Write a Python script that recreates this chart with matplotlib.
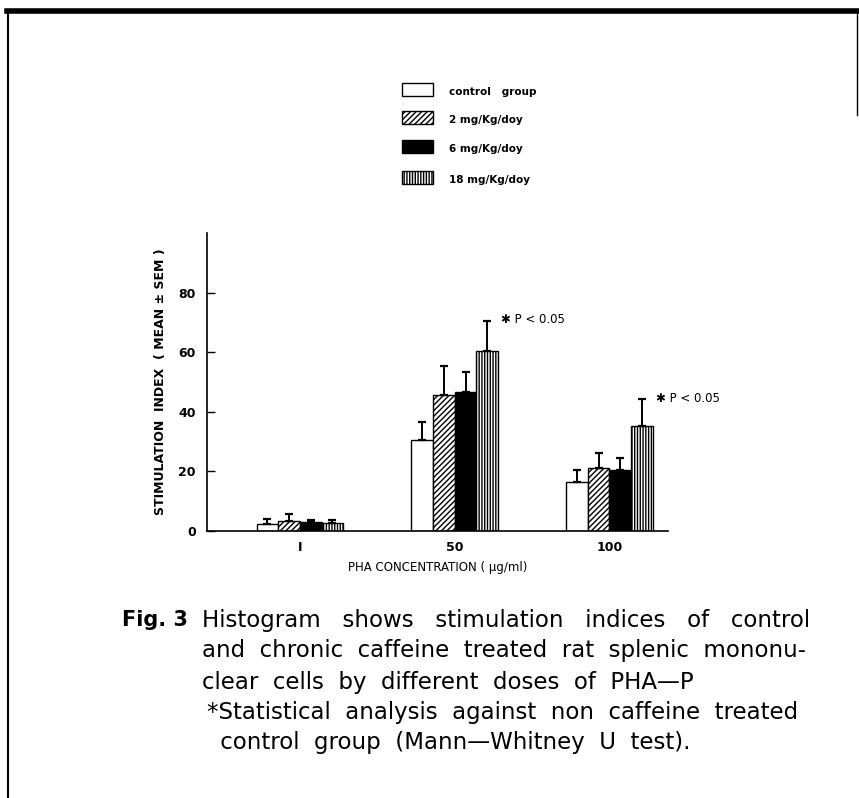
import numpy as np
import matplotlib
matplotlib.use('Agg')
import matplotlib.pyplot as plt
from matplotlib.patches import Rectangle

plt.rcParams['hatch.linewidth'] = 1.0

# data
concs = ['1', '50', '100']
groups = ['control   group', '2 mg/Kg/day', '6 mg/Kg/day', '18 mg/Kg/day']
means = {
    'control   group': [2.3, 30.5, 16.3],
    '2 mg/Kg/day': [3.4, 45.6, 21.2],
    '6 mg/Kg/day': [3.0, 46.7, 20.4],
    '18 mg/Kg/day': [2.8, 60.5, 35.2],
}
sems = {
    'control   group': [1.7, 6.0, 4.1],
    '2 mg/Kg/day': [2.3, 9.8, 5.0],
    '6 mg/Kg/day': [0.7, 6.7, 4.0],
    '18 mg/Kg/day': [0.9, 10.0, 9.2],
}
styles = {
    'control   group': dict(facecolor='white', hatch=None),
    '2 mg/Kg/day': dict(facecolor='white', hatch='//////'),
    '6 mg/Kg/day': dict(facecolor='black', hatch=None),
    '18 mg/Kg/day': dict(facecolor='white', hatch='||||||'),
}
legend_labels = ['control   group', '2 mg/Kg/doy', '6 mg/Kg/doy', '18 mg/Kg/doy']

fig = plt.figure(figsize=(8.59, 7.98), dpi=100)
fig.patch.set_facecolor('white')

ax = fig.add_axes([0.241, 0.3346, 0.537, 0.3734])
x = np.arange(len(concs))
w = 0.14
for i, g in enumerate(groups):
    pos = x + (i - 1.5) * w
    ax.bar(pos, means[g], w, edgecolor='black', linewidth=1.0, **styles[g])
    ax.errorbar(pos, means[g], yerr=[np.zeros(3), sems[g]], fmt='none',
                ecolor='black', elinewidth=1.4, capsize=3, capthick=1.6)

ax.set_xlim(-0.6, 2.38)
ax.set_ylim(0, 100)
ax.set_yticks([0, 20, 40, 60, 80])
ax.set_yticklabels(['0', '20', '40', '60', '80'], fontsize=9, fontweight='bold')
ax.tick_params(axis='y', direction='in', length=6, width=1, pad=8)
ax.set_xticks(x)
ax.set_xticklabels(['I', '50', '100'], fontsize=9, fontweight='bold')
ax.tick_params(axis='x', length=0, pad=7)
for s in ['top', 'right']:
    ax.spines[s].set_visible(False)
ax.spines['left'].set_linewidth(1.2)
ax.spines['bottom'].set_linewidth(1.2)
ax.set_ylabel('STIMULATION  INDEX  ( MEAN \u00b1 SEM )', fontsize=9,
              fontweight='bold', labelpad=8)
ax.set_xlabel('PHA CONCENTRATION ( \u03bcg/ml)', fontsize=8.5, labelpad=5)

# significance marks
ax.text(x[1] + 1.5 * w + 0.09, 71, '\u2731 P < 0.05', fontsize=8.5,
        va='center', ha='left', family=['DejaVu Sans'])
ax.text(x[2] + 1.5 * w + 0.09, 44.5, '\u2731 P < 0.05', fontsize=8.5,
        va='center', ha='left', family=['DejaVu Sans'])

# legend drawn by hand as in the figure
ys = [90, 118, 147, 178]
for g, lab, yy in zip(groups, legend_labels, ys):
    fy = 1 - yy / 798
    fig.patches.append(Rectangle((402 / 859, fy - 6 / 798), 31 / 859, 13 / 798,
                                 transform=fig.transFigure, edgecolor='black',
                                 linewidth=1.0, **styles[g]))
    fig.text(449 / 859, fy - 2 / 798, lab, fontsize=7.5, fontweight='bold', va='center')

# frame lines of the scanned page
fig.add_artist(plt.Line2D([7 / 859, 1.0], [1 - 11 / 798, 1 - 11 / 798],
                          transform=fig.transFigure, color='black', linewidth=4))
fig.add_artist(plt.Line2D([8 / 859, 8 / 859], [0, 1 - 11 / 798],
                          transform=fig.transFigure, color='black', linewidth=1.5))
fig.add_artist(plt.Line2D([857 / 859, 857 / 859], [1 - 115 / 798, 1 - 11 / 798],
                          transform=fig.transFigure, color='black', linewidth=1))

# caption
cap_font = 'DejaVu Sans'
fig.text(122 / 859, 1 - 620 / 798, 'Fig. 3', fontsize=15, fontweight='bold',
         va='center', family=cap_font)
lines = [
    (202, 620, 'Histogram   shows   stimulation   indices   of   control'),
    (202, 651, 'and  chronic  caffeine  treated  rat  splenic  mononu-'),
    (202, 682, 'clear  cells  by  different  doses  of  PHA\u2014P'),
    (207, 713, '*Statistical  analysis  against  non  caffeine  treated'),
    (213, 743, ' control  group  (Mann\u2014Whitney  U  test).'),
]
for lx, ly, t in lines:
    fig.text(lx / 859, 1 - ly / 798, t, fontsize=16.5, va='center', family=cap_font)

fig.savefig('out.png', dpi=100)
